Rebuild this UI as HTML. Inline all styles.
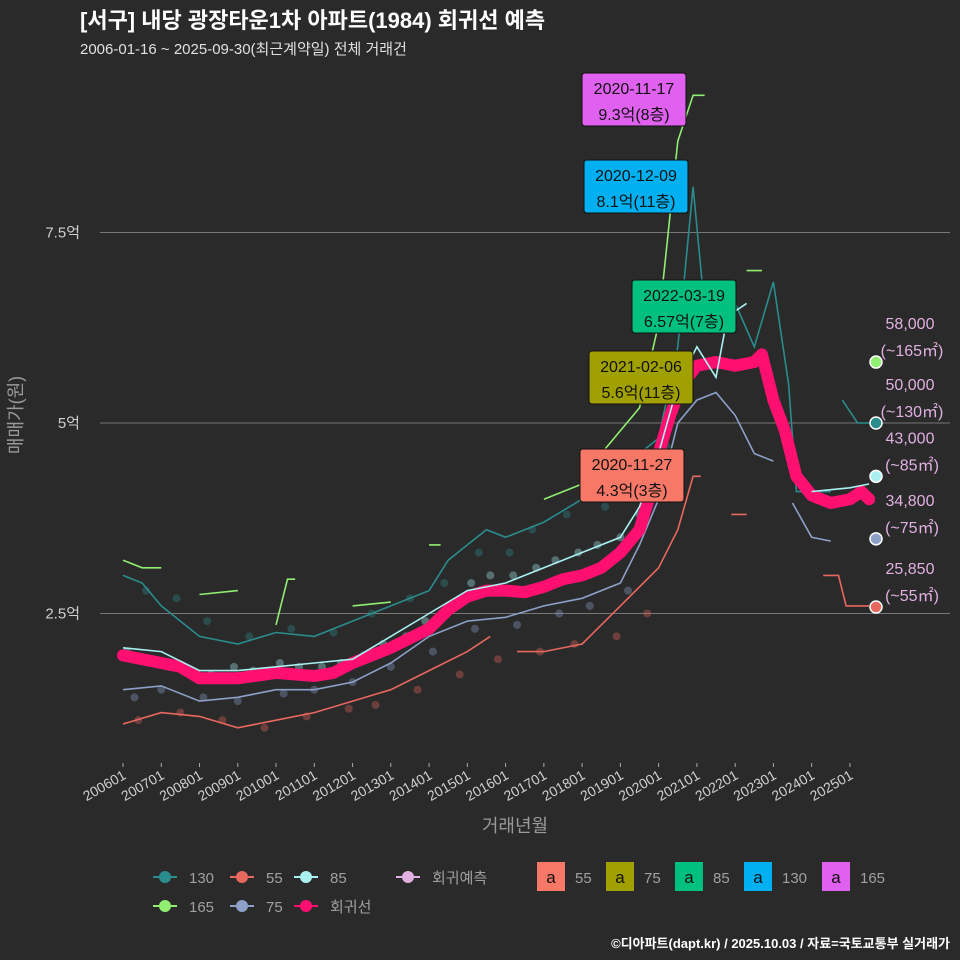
<!DOCTYPE html>
<html><head><meta charset="utf-8">
<style>
html,body{margin:0;padding:0;background:#2a2a2b;}
svg{display:block;font-family:"Liberation Sans","Noto Sans CJK KR",sans-serif;}
</style></head>
<body>
<svg id="chart" width="960" height="960" viewBox="0 0 960 960">
<rect width="960" height="960" fill="#2a2a2b"/>
<text x="80" y="28" font-size="22" font-weight="bold" fill="#ffffff">[서구] 내당 광장타운1차 아파트(1984) 회귀선 예측</text>
<text x="80" y="54" font-size="15" fill="#e0e0e0">2006-01-16 ~ 2025-09-30(최근계약일) 전체 거래건</text>
<g id="grid"></g>
<g id="dots"></g>
<g id="lines"></g>
<g id="axes"></g>
<g id="ann"></g>
<text x="0" y="0" transform="translate(22,415) rotate(-90)" text-anchor="middle" font-size="18" fill="#9a9a9a">매매가(원)</text>
<text x="515" y="832" text-anchor="middle" font-size="18" fill="#9a9a9a">거래년월</text>
<g id="legend"></g>
<text x="950" y="948" text-anchor="end" font-size="13" font-weight="bold" fill="#ffffff">©디아파트(dapt.kr) / 2025.10.03 / 자료=국토교통부 실거래가</text>
</svg>
<script>
const yTicks=[2.5,5,7.5];
const yTickLabels=["2.5억","5억","7.5억"];
const xTickYears=[2006,2007,2008,2009,2010,2011,2012,2013,2014,2015,2016,2017,2018,2019,2020,2021,2022,2023,2024,2025];
const xTickLabels=["200601","200701","200801","200901","201001","201101","201201","201301","201401","201501","201601","201701","201801","201901","202001","202101","202201","202301","202401","202501"];
const regT=[2006,2007,2007.5,2008,2009,2010,2011,2011.5,2012,2013,2014,2014.5,2015,2015.5,2016,2016.5,2017,2017.5,2018,2018.5,2019,2019.5,2019.8,2020,2020.3,2020.6,2021,2021.5,2022,2022.5,2022.7,2023,2023.3,2023.6,2024,2024.5,2025,2025.3,2025.5];
const regV=[1.95,1.85,1.8,1.65,1.65,1.72,1.68,1.72,1.85,2.05,2.3,2.55,2.72,2.8,2.8,2.78,2.85,2.95,3.0,3.1,3.3,3.6,4.1,4.6,5.1,5.5,5.75,5.8,5.75,5.8,5.9,5.3,4.9,4.3,4.05,3.95,4.0,4.1,4.0];
const s130T=[2006,2006.5,2007,2008,2009,2010,2011,2012,2013,2014,2014.5,2015,2015.5,2016,2017,2018,2019,2020,2020.5,2020.9,2021.2,2021.8,2022.5,2023,2023.4,2023.6,2024.5,null,2024.8,2025.2,2025.6];
const s130V=[3.0,2.9,2.6,2.2,2.1,2.25,2.2,2.4,2.6,2.8,3.2,3.4,3.6,3.5,3.7,4.0,4.4,4.8,6.0,8.1,6.5,6.8,6.0,6.85,5.5,4.1,4.1,null,5.3,5.0,5.0];
const s55T=[2006,2007,2008,2009,2010,2011,2012,2013,2014,2015,2015.6,null,2016.3,2017,2018,2019,2020,2020.5,2020.9,2021.1,null,2021.9,2022.3,null,2024.3,2024.7,2024.9,2025.5];
const s55V=[1.05,1.2,1.15,1.0,1.1,1.2,1.35,1.5,1.75,2.0,2.2,null,2.0,2.0,2.1,2.6,3.1,3.6,4.3,4.3,null,3.8,3.8,null,3.0,3.0,2.6,2.6];
const s85T=[2006,2007,2008,2009,2010,2011,2012,2013,2014,2015,2016,2017,2018,2019,2019.5,2020,2020.5,2021,2021.5,2021.8,2022.3,null,2024,2025,2025.5];
const s85V=[2.05,2.0,1.75,1.75,1.8,1.85,1.9,2.2,2.5,2.8,2.9,3.1,3.3,3.5,3.9,4.6,5.5,6.0,5.6,6.4,6.57,null,4.1,4.15,4.2];
const s165T=[2006,2006.5,2007,null,2008,2009,null,2010,2010.3,2010.5,null,2012,2013,null,2014,2014.3,null,2017,2018,2018.5,2019.5,2020,2020.5,2020.9,2021.2,null,2022.3,2022.7];
const s165V=[3.2,3.1,3.1,null,2.75,2.8,null,2.35,2.95,2.95,null,2.6,2.65,null,3.4,3.4,null,4.0,4.2,4.6,5.2,6.3,8.7,9.3,9.3,null,7.0,7.0];
const s75T=[2006,2007,2008,2009,2010,2011,2012,2013,2014,2015,2016,2017,2018,2019,2019.5,2020,2020.5,2021,2021.5,2022,2022.5,2023,null,2023.5,2024,2024.5];
const s75V=[1.5,1.55,1.35,1.4,1.5,1.5,1.6,1.85,2.2,2.4,2.45,2.6,2.7,2.9,3.4,4.0,5.0,5.3,5.4,5.1,4.6,4.5,null,3.95,3.5,3.45];
const dotT=[2006.1,2006.5,2007.2,2007.8,2008.3,2008.9,2009.4,2010.1,2010.6,2011.2,2011.7,2012.3,2012.8,2013.4,2013.9,2014.5,2015.1,2015.6,2016.2,2016.8,2017.3,2017.9,2018.4,2019.0,2019.5,2020.1,
2006.3,2007.0,2008.1,2009.0,2010.2,2011.0,2012.0,2013.0,2014.1,2015.2,2016.3,2017.4,2018.2,2019.2,
2006.4,2007.5,2008.6,2009.7,2010.8,2011.9,2012.6,2013.7,2014.8,2015.8,2016.9,2017.8,2018.9,2019.7,
2006.6,2007.4,2008.2,2009.3,2010.4,2011.5,2012.5,2013.5,2014.4,2015.3,2016.1,2016.7,2017.6,2018.6,2019.3,2020.2];
const dotV=[2.0,1.9,1.8,1.75,1.7,1.8,1.75,1.85,1.8,1.8,1.85,1.95,2.1,2.2,2.4,2.6,2.9,3.0,3.0,3.1,3.2,3.3,3.4,3.5,3.8,4.3,
1.4,1.5,1.4,1.35,1.45,1.5,1.6,1.8,2.0,2.3,2.35,2.5,2.6,2.8,
1.1,1.2,1.1,1.0,1.15,1.25,1.3,1.5,1.7,1.9,2.0,2.1,2.2,2.5,
2.8,2.7,2.4,2.2,2.3,2.25,2.5,2.7,2.9,3.3,3.3,3.6,3.8,3.9,4.2,4.7];
const dotS=["85","85","85","85","85","85","85","85","85","85","85","85","85","85","85","85","85","85","85","85","85","85","85","85","85","85",
"75","75","75","75","75","75","75","75","75","75","75","75","75","75",
"55","55","55","55","55","55","55","55","55","55","55","55","55","55",
"130","130","130","130","130","130","130","130","130","130","130","130","130","130","130","130"];
const endV=[5.8,5.0,4.3,3.48,2.585];
const endLabel=["58,000","50,000","43,000","34,800","25,850"];
const endArea=["(~165㎡)","(~130㎡)","(~85㎡)","(~75㎡)","(~55㎡)"];
const endColor=["#90ee70","#2a8c8c","#aaf0f0","#8ca0c8","#e8685f"];
const annDate=["2020-11-17","2020-12-09","2022-03-19","2021-02-06","2020-11-27"];
const annVal=["9.3억(8층)","8.1억(11층)","6.57억(7층)","5.6억(11층)","4.3억(3층)"];
const annColor=["#e060f0","#00b0f0","#00c080","#a0a000","#f87868"];
const annX=[634,636,684,641,632];
const annY=[100,187,307,378,476];

const NS="http://www.w3.org/2000/svg";
const X=t=>123+(t-2006)*38.26;
const Y=v=>804-76.2*v;
const col={"130":"#2a8c8c","55":"#e8685f","85":"#aaf0f0","165":"#90ee70","75":"#8ca0c8"};
function mk(tag,attrs,parent){const e=document.createElementNS(NS,tag);for(const k in attrs)e.setAttribute(k,attrs[k]);parent.appendChild(e);return e;}
const g=document.getElementById('grid');
yTicks.forEach((v,i)=>{
 const l=mk('line',{x1:100,x2:950,y1:Y(v),y2:Y(v),stroke:'#777','stroke-width':1},g);
 
 
 const t=mk('text',{x:80,y:Y(v)+5,'text-anchor':'end','font-size':15,fill:'#cfcfcf'},g);
 t.textContent=yTickLabels[i];
 
 
});
const ax=document.getElementById('axes');
xTickYears.forEach((y,i)=>{
 const x=X(y);
 mk('line',{x1:x,x2:x,y1:763,y2:767,stroke:'#aaa'},ax);
 const t=mk('text',{x:0,y:0,transform:`translate(${x+4},${778}) rotate(-30)`,'text-anchor':'end','font-size':14,fill:'#cfcfcf'},ax);
 t.textContent=xTickLabels[i];
 
 
});
const dg=document.getElementById('dots');
dotT.forEach((t,i)=>{
 const c=mk('circle',{cx:X(t),cy:Y(dotV[i]),r:4,fill:col[dotS[i]],opacity:0.35},dg);
 
 
});
function path(T,V){let d='',pen=false;T.forEach((t,i)=>{if(t===null){pen=false;return;}d+=(pen?'L':'M')+X(t).toFixed(1)+' '+Y(V[i]).toFixed(1)+' ';pen=true;});return d;}
const lg=document.getElementById('lines');
[["130",s130T,s130V],["55",s55T,s55V],["165",s165T,s165V],["75",s75T,s75V]].forEach(s=>{
 const p=mk('path',{d:path(s[1],s[2]),fill:'none',stroke:col[s[0]],'stroke-width':1.6},lg);
 
 
});
const rp=mk('path',{d:path(regT,regV),fill:'none',stroke:'#ff1070','stroke-width':12,'stroke-linejoin':'round','stroke-linecap':'round'},lg);


const p85=mk('path',{d:path(s85T,s85V),fill:'none',stroke:col["85"],'stroke-width':1.6},lg);


const an=document.getElementById('ann');
endV.forEach((v,i)=>{
 const c=mk('circle',{cx:876,cy:Y(v),r:6,fill:endColor[i],stroke:'#fff','stroke-width':1.5},an);
 
 
 const t1=mk('text',{x:910,y:Y(v)-33,'text-anchor':'middle','font-size':16,fill:'#e0b0e0'},an);
 t1.textContent=endLabel[i];
 
 
 const t2=mk('text',{x:912,y:Y(v)-6,'text-anchor':'middle','font-size':16,fill:'#e0b0e0'},an);
 t2.textContent=endArea[i];
 
 
});
annDate.forEach((d,i)=>{
 const r=mk('rect',{x:annX[i]-52,y:annY[i]-27,width:104,height:53,rx:3,fill:annColor[i],stroke:'#111'},an);
 
 
 const t1=mk('text',{x:annX[i],y:annY[i]-6,'text-anchor':'middle','font-size':16,fill:'#111'},an);
 t1.textContent=d;
 
 
 const t2=mk('text',{x:annX[i],y:annY[i]+20,'text-anchor':'middle','font-size':16,fill:'#111'},an);
 t2.textContent=annVal[i];
 
 
});
const leg=document.getElementById('legend');
const li=[["130","#2a8c8c",165,877],["55","#e8685f",242,877],["85","#aaf0f0",306,877],["회귀예측","#e0b0e0",408,877],["165","#90ee70",165,906],["75","#8ca0c8",242,906],["회귀선","#ff1070",306,906]];
li.forEach(e=>{
 mk('line',{x1:e[2]-12,x2:e[2]+12,y1:e[3],y2:e[3],stroke:e[1],'stroke-width':2},leg);
 const c=mk('circle',{cx:e[2],cy:e[3],r:6,fill:e[1]},leg);
 
 
 const t=mk('text',{x:e[2]+24,y:e[3]+6,'font-size':15,fill:'#a0a0a0'},leg);
 t.textContent=e[0];
});
const lb=[["55","#f87868",551],["75","#a0a000",620],["85","#00c080",689],["130","#00b0f0",758],["165","#e060f0",836]];
lb.forEach(e=>{
 const r=mk('rect',{x:e[2]-14,y:862,width:28,height:29,fill:e[1]},leg);
 
 
 const a=mk('text',{x:e[2],y:883,'text-anchor':'middle','font-size':17,fill:'#111'},leg);
 a.textContent='a';
 const t=mk('text',{x:e[2]+24,y:883,'font-size':15,fill:'#a0a0a0'},leg);
 t.textContent=e[0];
});
</script>
</body></html>
